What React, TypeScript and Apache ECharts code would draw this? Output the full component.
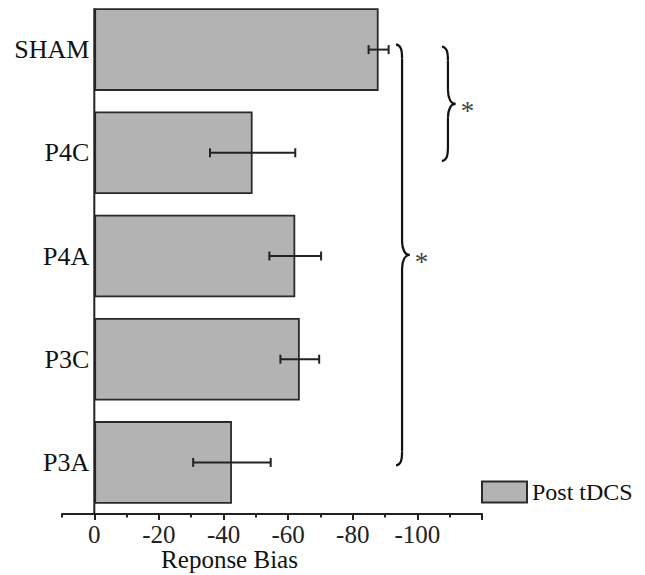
import React, { useEffect, useRef } from "react";
import * as echarts from "echarts";

const categories = ["SHAM", "P4C", "P4A", "P3C", "P3A"];
const meanBias = [-88, -49, -62.2, -63.6, -42.6];
const errorHalf = [3.1, 13.2, 8, 6, 12];
const majorTicks = [0, -20, -40, -60, -80, -100, -120];
const labelTicks = [0, -20, -40, -60, -80, -100];
const minorTicks = [10, -10, -30, -50, -70, -90, -110];
const seriesName = "Post tDCS";
const axisTitle = "Reponse Bias";
// significance braces: category span (fractional index) and x position (value units)
const bracketFrom = [-0.05, -0.03];
const bracketTo = [4.03, 1.08];
const bracketX = [-93.4, -107.6];
const bracketLabel = ["*", "*"];

const FONT = "'Liberation Serif', 'Times New Roman', serif";

export default function App() {
  const ref = useRef<HTMLDivElement>(null);
  useEffect(() => {
    if (!ref.current) return;
    const chart = echarts.init(ref.current, null, { renderer: "svg" });
    const errData = categories.map((_, i) => [
      i,
      meanBias[i] + errorHalf[i],
      meanBias[i] - errorHalf[i],
    ]);
    chart.setOption({
      animation: false,
      backgroundColor: "#ffffff",
      textStyle: { fontFamily: FONT },
      grid: {
        left: 62,
        right: 163,
        top: -2,
        bottom: 61,
        containLabel: false,
        outerBoundsMode: "none",
      },
      legend: {
        data: [seriesName],
        left: 481,
        top: 480,
        itemWidth: 45,
        itemHeight: 21,
        itemGap: 0,
        padding: 0,
        icon: "rect",
        textStyle: { fontFamily: FONT, fontSize: 24, color: "#111" },
      },
      xAxis: [
        {
          type: "value",
          position: "bottom",
          inverse: true,
          min: -120,
          max: 10,
          splitLine: { show: false },
          axisLine: { show: true, onZero: false, lineStyle: { color: "#222", width: 2 } },
          axisTick: {
            show: true,
            customValues: majorTicks,
            length: 6,
            lineStyle: { color: "#222", width: 2 },
          },
          axisLabel: {
            customValues: labelTicks,
            fontFamily: FONT,
            fontSize: 25,
            color: "#222",
            margin: 8,
          },
          name: axisTitle,
          nameLocation: "middle",
          nameGap: 33,
          nameMoveOverlap: false,
          nameTextStyle: {
            fontFamily: FONT,
            fontSize: 25,
            color: "#111",
            padding: [0, 85, 0, 0],
          },
        },
        {
          type: "value",
          position: "bottom",
          inverse: true,
          min: -120,
          max: 10,
          splitLine: { show: false },
          axisLine: { show: false, onZero: false },
          axisLabel: { show: false },
          axisTick: {
            show: true,
            customValues: minorTicks,
            length: 3.5,
            lineStyle: { color: "#222", width: 2 },
          },
        },
      ],
      yAxis: {
        type: "category",
        inverse: true,
        data: categories,
        axisLine: { show: false },
        axisTick: { show: false },
        axisLabel: {
          fontFamily: FONT,
          fontSize: 26,
          color: "#111",
          margin: 5,
          padding: [0, 0, 4, 0],
        },
      },
      series: [
        {
          name: seriesName,
          type: "bar",
          xAxisIndex: 0,
          data: meanBias,
          barCategoryGap: "20%",
          itemStyle: { color: "#b3b3b3", borderColor: "#2a2a2a", borderWidth: 1.8 },
          z: 2,
        },
        {
          name: "err",
          type: "custom",
          xAxisIndex: 0,
          data: errData,
          encode: { x: [1, 2], y: 0 },
          z: 10,
          renderItem: (_params: any, api: any) => {
            const i = api.value(0);
            const a = api.coord([api.value(1), i]);
            const b = api.coord([api.value(2), i]);
            const h = 4.5;
            const st = { stroke: "#222", lineWidth: 2 };
            return {
              type: "group",
              children: [
                { type: "line", shape: { x1: a[0], y1: a[1], x2: b[0], y2: b[1] }, style: st },
                { type: "line", shape: { x1: a[0], y1: a[1] - h, x2: a[0], y2: a[1] + h }, style: st },
                { type: "line", shape: { x1: b[0], y1: b[1] - h, x2: b[0], y2: b[1] + h }, style: st },
              ],
            };
          },
        },
      ],
    });

    const p0 = chart.convertToPixel({ gridIndex: 0 }, [0, 0]) as number[];
    const p1 = chart.convertToPixel({ gridIndex: 0 }, [0, 1]) as number[];
    const band = p1[1] - p0[1];
    const yOf = (c: number) => p0[1] + c * band;
    const xOf = (v: number) =>
      (chart.convertToPixel({ gridIndex: 0 }, [v, 0]) as number[])[0];
    const bottom = (chart.convertToPixel({ gridIndex: 0 }, [0, 4]) as number[])[1] + band / 2;
    const barTop = p0[1] - (band * 0.8) / 2;
    // place the category labels beside the zero line
    const zeroShift = xOf(0) - xOf(10);

    const graphics: any[] = [
      {
        type: "line",
        shape: { x1: p0[0], y1: barTop, x2: p0[0], y2: bottom },
        style: { stroke: "#222", lineWidth: 2 },
        z: 20,
      },
    ];
    const stroke = { stroke: "#111", lineWidth: 2.2, fill: null };
    bracketFrom.forEach((f, k) => {
      const y1 = yOf(f);
      const y2 = yOf(bracketTo[k]);
      const ym = (y1 + y2) / 2;
      const x0 = xOf(bracketX[k]);
      const dx = 6;
      const tip = 7.5;
      const r = 14;
      const xv = x0 + dx;
      graphics.push(
        {
          type: "bezierCurve",
          shape: { x1: x0, y1: y1, cpx1: xv - 1, cpy1: y1 + 1, cpx2: xv, cpy2: y1 + r * 0.4, x2: xv, y2: y1 + r },
          style: stroke,
          z: 20,
        },
        {
          type: "line",
          shape: { x1: xv, y1: y1 + r, x2: xv, y2: ym - r },
          style: stroke,
          z: 20,
        },
        {
          type: "bezierCurve",
          shape: { x1: xv, y1: ym - r, cpx1: xv, cpy1: ym - r * 0.4, cpx2: xv + tip * 0.4, cpy2: ym, x2: xv + tip, y2: ym },
          style: stroke,
          z: 20,
        },
        {
          type: "bezierCurve",
          shape: { x1: xv + tip, y1: ym, cpx1: xv + tip * 0.4, cpy1: ym, cpx2: xv, cpy2: ym + r * 0.4, x2: xv, y2: ym + r },
          style: stroke,
          z: 20,
        },
        {
          type: "line",
          shape: { x1: xv, y1: ym + r, x2: xv, y2: y2 - r },
          style: stroke,
          z: 20,
        },
        {
          type: "bezierCurve",
          shape: { x1: xv, y1: y2 - r, cpx1: xv, cpy1: y2 - r * 0.4, cpx2: xv - 1, cpy2: y2 - 1, x2: x0, y2: y2 },
          style: stroke,
          z: 20,
        },
        {
          type: "text",
          x: xv + tip + 12,
          y: ym + 7,
          style: {
            text: bracketLabel[k],
            font: `27px ${FONT}`,
            fill: "#444444",
            align: "center",
            verticalAlign: "middle",
          },
          z: 20,
        }
      );
    });
    chart.setOption({ yAxis: { offset: -zeroShift }, graphic: graphics });

    return () => chart.dispose();
  }, []);
  return (
    <div
      ref={ref}
      style={{ position: "fixed", left: 0, top: 0, width: 645, height: 575 }}
    />
  );
}
